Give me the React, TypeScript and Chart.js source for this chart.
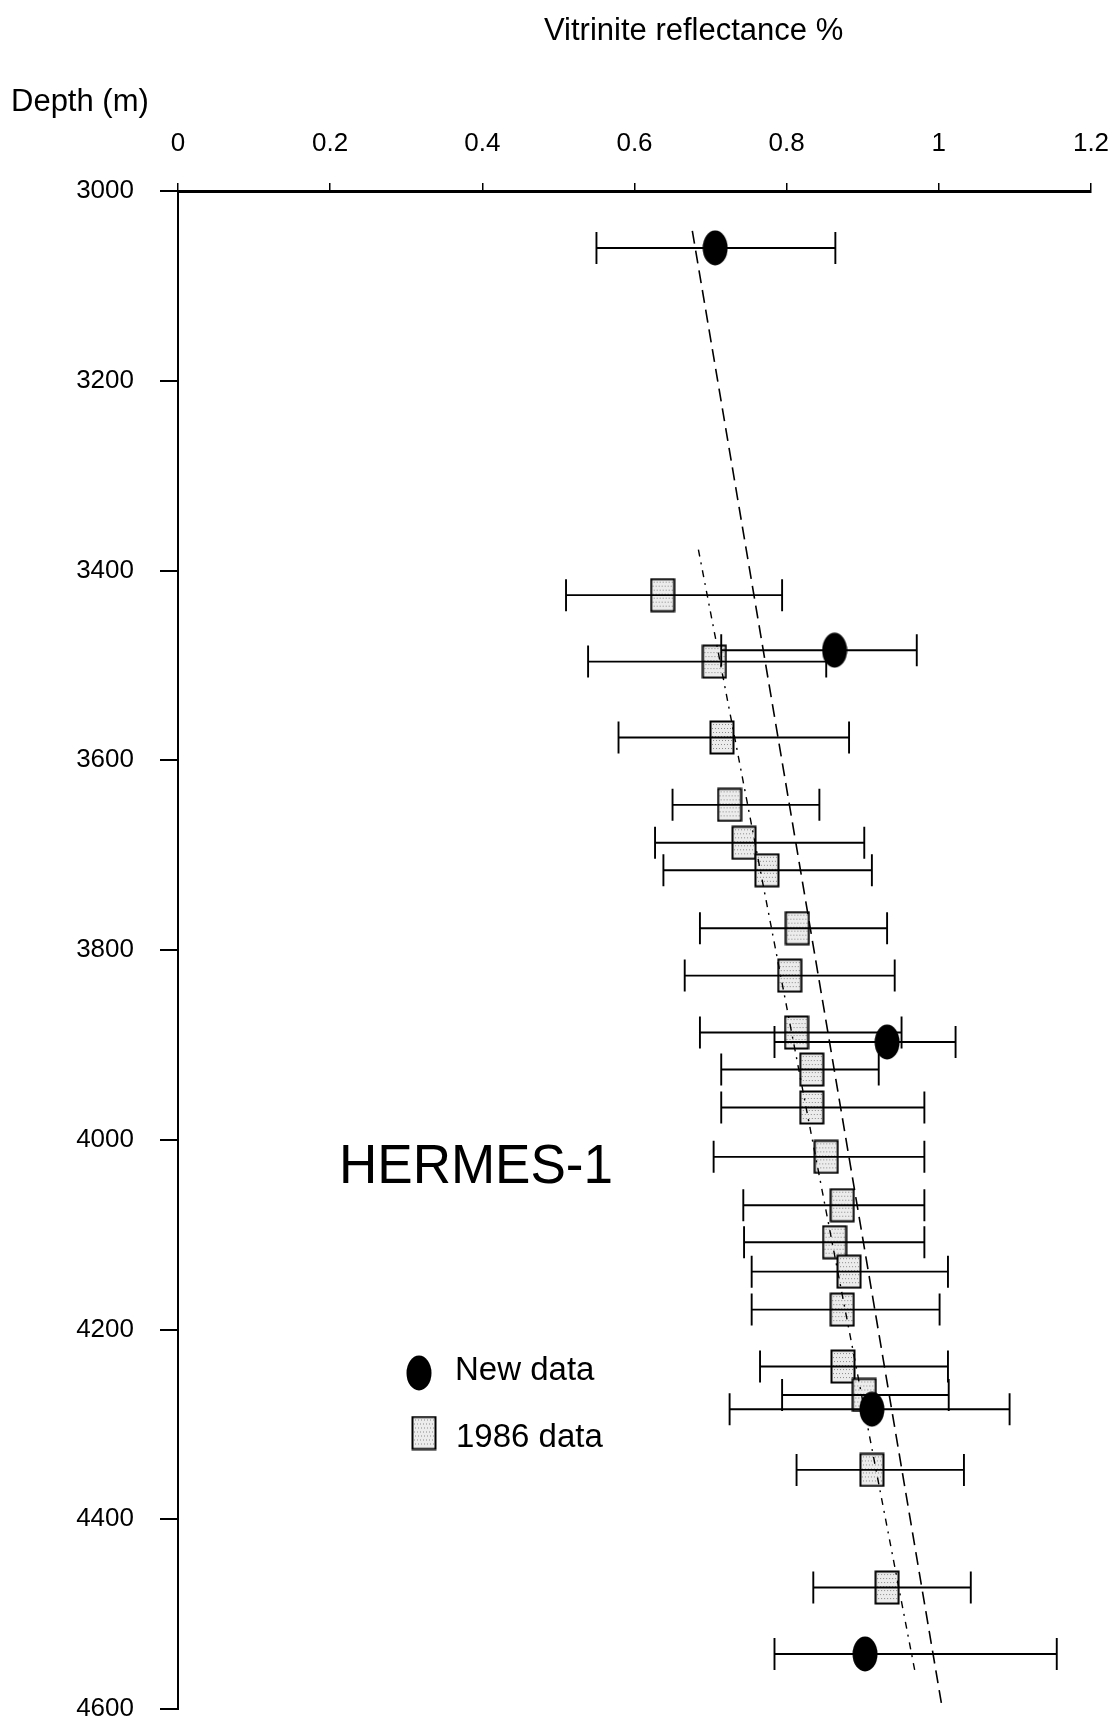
import React, { useEffect, useRef } from "react";
import { Chart, registerables } from "chart.js";
Chart.register(...registerables);

// ---- Data ----
const xTickValues = [0, 0.2, 0.4, 0.6, 0.8, 1, 1.2];
const xTickLabels = ["0", "0.2", "0.4", "0.6", "0.8", "1", "1.2"];
const yTickValues = [3000, 3200, 3400, 3600, 3800, 4000, 4200, 4400, 4600];
const yTickLabels = ["3000", "3200", "3400", "3600", "3800", "4000", "4200", "4400", "4600"];

// New data (black ellipses)
const newDepth = [3060, 3484, 3897, 4284, 4542];
const newVr = [0.706, 0.863, 0.932, 0.912, 0.903];
const newLow = [0.55, 0.714, 0.784, 0.725, 0.784];
const newHigh = [0.864, 0.971, 1.022, 1.093, 1.155];

// 1986 data (stippled squares)
const oldDepth = [3426, 3496, 3576, 3647, 3687, 3716, 3777, 3827, 3887, 3926, 3966, 4018, 4069, 4108, 4139, 4179, 4239, 4269, 4348, 4472];
const oldVr = [0.637, 0.705, 0.715, 0.725, 0.744, 0.774, 0.814, 0.804, 0.813, 0.833, 0.833, 0.852, 0.873, 0.863, 0.882, 0.873, 0.874, 0.902, 0.912, 0.932];
const oldLow = [0.51, 0.539, 0.579, 0.65, 0.627, 0.638, 0.686, 0.666, 0.686, 0.714, 0.714, 0.704, 0.743, 0.744, 0.754, 0.754, 0.765, 0.794, 0.813, 0.835];
const oldHigh = [0.794, 0.852, 0.882, 0.843, 0.902, 0.912, 0.932, 0.942, 0.951, 0.921, 0.981, 0.981, 0.981, 0.981, 1.012, 1.001, 1.012, 1.013, 1.033, 1.042];

// Trend lines
const dashedTrendVr = [0.676, 1.004];
const dashedTrendDepth = [3042, 4597];
const dotTrendVr = [0.684, 0.969];
const dotTrendDepth = [3378, 4562];

const FONT = "'Liberation Sans', Arial, Helvetica, sans-serif";

function makeEllipse(w: number, h: number): HTMLCanvasElement {
  const c = document.createElement("canvas");
  c.width = w;
  c.height = h;
  const ctx = c.getContext("2d")!;
  ctx.fillStyle = "#000";
  ctx.beginPath();
  ctx.ellipse(w / 2, h / 2, w / 2 - 0.5, h / 2 - 0.5, 0, 0, Math.PI * 2);
  ctx.fill();
  return c;
}

function makeStippleRect(w: number, h: number): HTMLCanvasElement {
  const c = document.createElement("canvas");
  c.width = w;
  c.height = h;
  const ctx = c.getContext("2d")!;
  ctx.fillStyle = "#ececec";
  ctx.fillRect(1, 1, w - 2, h - 2);
  ctx.fillStyle = "#8a8a8a";
  for (let yy = 4; yy < h - 3; yy += 4) {
    for (let xx = 3 + ((yy / 4) % 2); xx < w - 3; xx += 3) {
      ctx.fillRect(xx, yy, 1, 1);
    }
  }
  ctx.strokeStyle = "#000";
  ctx.lineWidth = 2;
  ctx.strokeRect(1.5, 1.5, w - 3, h - 3);
  return c;
}

export default function App() {
  const ref = useRef<HTMLCanvasElement>(null);

  useEffect(() => {
    const canvas = ref.current!;
    const circleImg = makeEllipse(26, 36);
    const squareImg = makeStippleRect(26, 35);

    const drawBars = (chart: any, vr: number[], lo: number[], hi: number[], depth: number[]) => {
      const ctx = chart.ctx;
      const xs = chart.scales.x;
      const ys = chart.scales.y;
      ctx.save();
      ctx.strokeStyle = "#000";
      ctx.lineWidth = 1.9;
      for (let i = 0; i < vr.length; i++) {
        const y = ys.getPixelForValue(depth[i]);
        const x1 = xs.getPixelForValue(lo[i]);
        const x2 = xs.getPixelForValue(hi[i]);
        ctx.beginPath();
        ctx.moveTo(x1, y);
        ctx.lineTo(x2, y);
        ctx.moveTo(x1, y - 16);
        ctx.lineTo(x1, y + 16);
        ctx.moveTo(x2, y - 16);
        ctx.lineTo(x2, y + 16);
        ctx.stroke();
      }
      ctx.restore();
    };

    const noPad = (scale: any) => {
      scale.paddingTop = 0;
      scale.paddingBottom = 0;
      scale.paddingLeft = 0;
      scale.paddingRight = 0;
    };

    const annotations = {
      id: "annotations",
      beforeDraw(chart: any) {
        const ctx = chart.ctx;
        ctx.save();
        ctx.fillStyle = "#fff";
        ctx.fillRect(0, 0, chart.width, chart.height);
        ctx.restore();
      },
      afterDatasetsDraw(chart: any) {
        drawBars(chart, oldVr, oldLow, oldHigh, oldDepth);
        drawBars(chart, newVr, newLow, newHigh, newDepth);
      },
      afterDraw(chart: any) {
        const ctx = chart.ctx;
        ctx.save();
        ctx.fillStyle = "#000";
        ctx.textBaseline = "alphabetic";
        ctx.textAlign = "left";
        ctx.font = `31px ${FONT}`;
        ctx.fillText("Vitrinite reflectance %", 544, 40, 302);
        ctx.fillText("Depth (m)", 11, 111, 139);
        ctx.font = `56px ${FONT}`;
        ctx.fillText("HERMES-1", 339, 1183, 274);
        // legend
        ctx.drawImage(circleImg, 419 - 13, 1373 - 18);
        ctx.drawImage(squareImg, 424 - 13, 1433 - 17.5);
        ctx.font = `33px ${FONT}`;
        ctx.fillText("New data", 455, 1380);
        ctx.fillText("1986 data", 456, 1447);
        ctx.restore();
      },
    };

    const chart = new Chart(canvas, {
      type: "scatter",
      data: {
        datasets: [
          {
            label: "Trend (dashed)",
            data: dashedTrendVr.map((v, i) => ({ x: v, y: dashedTrendDepth[i] })),
            showLine: true,
            borderColor: "#000",
            borderWidth: 1.6,
            borderDash: [13, 7],
            pointRadius: 0,
            order: 1,
          },
          {
            label: "Trend (dash-dot)",
            data: dotTrendVr.map((v, i) => ({ x: v, y: dotTrendDepth[i] })),
            showLine: true,
            borderColor: "#000",
            borderWidth: 1.4,
            borderDash: [7, 6, 2, 6],
            pointRadius: 0,
            order: 1,
          },
          {
            label: "1986 data",
            data: oldVr.map((v, i) => ({ x: v, y: oldDepth[i] })),
            pointStyle: squareImg as any,
            pointRadius: 13,
            order: 2,
          },
          {
            label: "New data",
            data: newVr.map((v, i) => ({ x: v, y: newDepth[i] })),
            pointStyle: circleImg as any,
            pointRadius: 13,
            order: 0,
          },
        ],
      },
      options: {
        animation: false,
        responsive: false,
        events: [],
        layout: { padding: { left: 0, top: 0, right: 25, bottom: 17 } },
        plugins: {
          legend: { display: false },
          tooltip: { enabled: false },
        },
        scales: {
          x: {
            type: "linear",
            position: "top",
            min: 0,
            max: 1.2,
            afterBuildTicks: (scale: any) => {
              scale.ticks = xTickValues.map((v) => ({ value: v }));
            },
            afterFit: (scale: any) => {
              scale.height = 191;
              noPad(scale);
            },
            ticks: {
              color: "#000",
              padding: 24,
              maxRotation: 0,
              font: { family: FONT, size: 26 },
              callback: (_v: any, i: number) => xTickLabels[i],
            },
            grid: {
              display: true,
              drawOnChartArea: false,
              drawTicks: true,
              tickLength: 8,
              color: "#000",
              lineWidth: 1.5,
            },
            border: { display: true, color: "#000", width: 3 },
          },
          y: {
            type: "linear",
            position: "left",
            reverse: true,
            min: 3000,
            max: 4600,
            afterBuildTicks: (scale: any) => {
              scale.ticks = yTickValues.map((v) => ({ value: v }));
            },
            afterFit: (scale: any) => {
              scale.width = 178;
              noPad(scale);
            },
            ticks: {
              color: "#000",
              padding: 26,
              font: { family: FONT, size: 26 },
              callback: (_v: any, i: number) => yTickLabels[i],
            },
            grid: {
              display: true,
              drawOnChartArea: false,
              drawTicks: true,
              tickLength: 18,
              color: "#000",
              lineWidth: 2,
            },
            border: { display: true, color: "#000", width: 2 },
          },
        },
      },
      plugins: [annotations],
    });
    return () => chart.destroy();
  }, []);

  return (
    <div style={{ position: "absolute", left: 0, top: 0, width: 1116, height: 1726, background: "#fff" }}>
      <canvas ref={ref} width={1116} height={1726} style={{ display: "block" }} />
    </div>
  );
}
